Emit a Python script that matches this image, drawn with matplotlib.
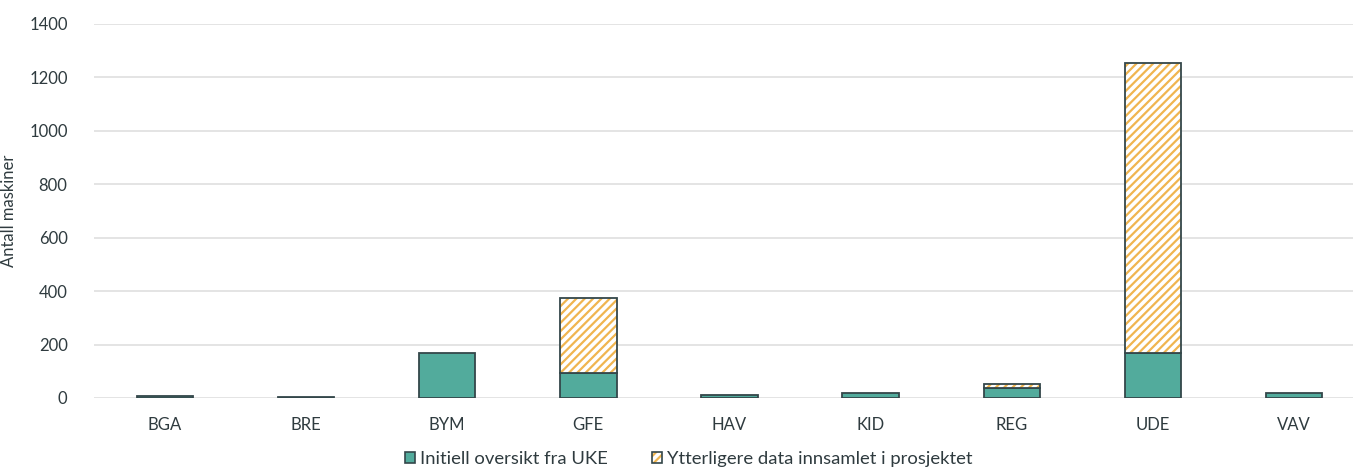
import matplotlib
matplotlib.use("Agg")
import matplotlib.pyplot as plt
from matplotlib.patches import Patch
from matplotlib.legend_handler import HandlerTuple

# Data
categories = ["BGA", "BRE", "BYM", "GFE", "HAV", "KID", "REG", "UDE", "VAV"]
initial_uke = [8, 3, 170, 92, 10, 20, 36, 167, 20]
extra_project = [0, 0, 0, 281, 0, 0, 18, 1086, 0]
y_ticks = [0, 200, 400, 600, 800, 1000, 1200, 1400]
legend_labels = ["Initiell oversikt fra UKE", "Ytterligere data innsamlet i prosjektet"]
y_label = "Antall maskiner"

TEAL = "#52ab9c"
EDGE = "#34474a"
ORANGE = "#f0b550"
TEXT = "#2f3b3f"
GRID = "#e2e2e2"

plt.rcParams["font.family"] = ["Lato", "DejaVu Sans"]
plt.rcParams["hatch.linewidth"] = 1.6

W, H, DPI = 1353, 468, 100
fig = plt.figure(figsize=(W / DPI, H / DPI), dpi=DPI)
ax = fig.add_axes([94 / W, 1 - 398 / H, (W - 94) / W, (398 - 24) / H])

x = list(range(len(categories)))
bw = 0.4
FS = 12

ax.bar(x, initial_uke, width=bw, color=TEAL, edgecolor=EDGE, linewidth=1.3, zorder=3)
# hatched stripes, then a dark outline on top
ax.bar(x, extra_project, width=bw, bottom=initial_uke, color="white",
       edgecolor=ORANGE, hatch="////", linewidth=0, zorder=3)
outline_idx = [i for i, v in enumerate(extra_project) if v > 0]
ax.bar([x[i] for i in outline_idx], [extra_project[i] for i in outline_idx], width=bw,
       bottom=[initial_uke[i] for i in outline_idx], fill=False,
       edgecolor=EDGE, linewidth=1.3, zorder=4)

ax.set_xlim(-0.502, 8.417)
ax.set_ylim(0, 1400)
ax.set_yticks(y_ticks)
ax.set_xticks(x)
ax.set_xticklabels(categories)
ax.grid(axis="y", color=GRID, linewidth=1.3, zorder=0)
ax.set_axisbelow(True)
for s in ax.spines.values():
    s.set_visible(False)
ax.tick_params(axis="both", length=0, labelsize=FS, colors=TEXT)
ax.tick_params(axis="y", pad=19)
ax.tick_params(axis="x", pad=14)
ax.set_ylabel(y_label, fontsize=FS, color=TEXT)
ax.yaxis.set_label_coords(-0.061, 0.5)

h1 = Patch(facecolor=TEAL, edgecolor=EDGE, linewidth=1.2)
h2a = Patch(facecolor="white", edgecolor=ORANGE, hatch="////", linewidth=0)
h2b = Patch(fill=False, edgecolor=EDGE, linewidth=1.2)
fig.legend([h1, (h2a, h2b)], legend_labels,
           handler_map={tuple: HandlerTuple(ndivide=1, pad=0)},
           loc="center", bbox_to_anchor=(0.509, 1 - 459 / H), ncol=2, frameon=False,
           borderpad=0, fontsize=13.3, handlelength=0.55, handleheight=0.55,
           handletextpad=0.25, columnspacing=2.4, labelcolor=TEXT)

fig.savefig("out.png", dpi=DPI)
